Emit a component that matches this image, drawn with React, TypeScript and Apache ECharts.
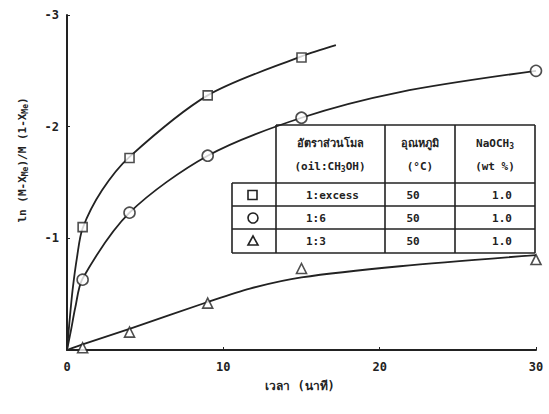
import React, { useEffect, useRef } from "react";
import * as echarts from "echarts";

// Data (time in minutes, value of ln(...))
const squarePoints: [number, number][] = [[1, -1.1], [4, -1.72], [9, -2.28], [15, -2.62]];
const circlePoints: [number, number][] = [[1, -0.63], [4, -1.23], [9, -1.74], [15, -2.08], [30, -2.5]];
const trianglePoints: [number, number][] = [[1, -0.02], [4, -0.16], [9, -0.42], [15, -0.73], [30, -0.81]];

// Fitted curves as drawn in the reference
const squareCurve: [number, number][] = [[0, 0], [0.15, -0.24], [0.36, -0.54], [0.64, -0.83], [1, -1.09], [2.24, -1.43], [4, -1.73], [9, -2.28], [15, -2.63], [17.2, -2.73]];
const circleCurve: [number, number][] = [[0, 0], [0.26, -0.18], [0.53, -0.38], [1, -0.64], [4, -1.23], [9, -1.74], [15, -2.08], [21.3, -2.31], [30, -2.5]];
const triangleCurve: [number, number][] = [[0, 0], [1, -0.05], [4, -0.19], [9, -0.43], [11.7, -0.55], [15, -0.65], [21.3, -0.75], [30, -0.85]];

const tableHeader = [
  ["อัตราส่วนโมล", "(oil:CH{s|3}OH)"],
  ["อุณหภูมิ", "(°C)"],
  ["NaOCH{s|3}", "(wt %)"],
];
const ratios = ["1:excess", "1:6", "1:3"];
const temps = ["50", "50", "50"];
const catalyst = ["1.0", "1.0", "1.0"];

const xTitle = "เวลา (นาที)";
const FONT = "'DejaVu Sans Mono', 'Liberation Mono', 'Noto Sans', sans-serif";
const INK = "#222";

export default function App() {
  const ref = useRef<HTMLDivElement>(null);
  useEffect(() => {
    if (!ref.current) return;
    const chart = echarts.init(ref.current, undefined, { renderer: "svg" });

    const txt = (text: string, x: number, y: number, align = "center", size = 11, rich?: any) => ({
      type: "text",
      x,
      y,
      style: {
        text,
        fill: INK,
        font: `bold ${size}px ${FONT}`,
        align,
        verticalAlign: "middle",
        rich,
      },
    });
    const ln = (x1: number, y1: number, x2: number, y2: number) => ({
      type: "line",
      shape: { x1, y1, x2, y2 },
      style: { stroke: INK, lineWidth: 1.6 },
    });
    const subRich = {
      s: { fontSize: 8, fontWeight: "bold", fontFamily: FONT, fill: INK, padding: [7, 0, 0, 0] },
    };

    const colL = 232, c2 = 276, c3 = 385, c4 = 455, colR = 535;
    const hTop = 125, r1 = 183, r2 = 206, r3 = 229, bot = 253;
    const rowY = [195, 218, 241];

    const graphics: any[] = [
      ln(c2, hTop, colR, hTop),
      ln(colL, r1, colR, r1),
      ln(colL, r2, colR, r2),
      ln(colL, r3, colR, r3),
      ln(colL, bot, colR, bot),
      ln(colL, r1, colL, bot),
      ln(c2, hTop, c2, bot),
      ln(c3, hTop, c3, bot),
      ln(c4, hTop, c4, bot),
      ln(colR, hTop, colR, bot),
      txt(tableHeader[0][0], 330, 143, "center", 11),
      txt(tableHeader[0][1], 330, 166, "center", 11, subRich),
      txt(tableHeader[1][0], 420, 143, "center", 11),
      txt(tableHeader[1][1], 420, 166, "center", 11),
      txt(tableHeader[2][0], 495, 143, "center", 11, subRich),
      txt(tableHeader[2][1], 495, 166, "center", 11),
      { type: "rect", shape: { x: 248, y: rowY[0] - 4.5, width: 9, height: 9 }, style: { fill: "#fff", stroke: INK, lineWidth: 1.6 } },
      { type: "circle", shape: { cx: 253, cy: rowY[1], r: 5 }, style: { fill: "#fff", stroke: INK, lineWidth: 1.6 } },
      { type: "polygon", shape: { points: [[253, rowY[2] - 5], [258, rowY[2] + 4], [248, rowY[2] + 4]] }, style: { fill: "#fff", stroke: INK, lineWidth: 1.6 } },
      {
        type: "text",
        x: 22,
        y: 160,
        rotation: Math.PI / 2,
        style: {
          text: "ln (M-X{s|Me})/M (1-X{s|Me})",
          fill: INK,
          font: `bold 11px ${FONT}`,
          align: "center",
          verticalAlign: "middle",
          rich: subRich,
        },
      },
      txt(xTitle, 300, 386, "center", 12),
    ];
    ratios.forEach((r, i) => graphics.push(txt(r, 306, rowY[i], "left", 11)));
    temps.forEach((t, i) => graphics.push(txt(t, 413, rowY[i], "center", 11)));
    catalyst.forEach((c, i) => graphics.push(txt(c, 502, rowY[i], "center", 11)));

    const lineSeries = (data: [number, number][]) => ({
      type: "line",
      data,
      smooth: 0.3,
      symbol: "none",
      lineStyle: { color: INK, width: 1.8 },
      z: 2,
    });
    const scatterSeries = (data: [number, number][], symbol: string, size: number) => ({
      type: "scatter",
      data,
      symbol,
      symbolSize: size,
      clip: false,
      itemStyle: { color: "#fff", borderColor: INK, borderWidth: 1.6 },
      z: 3,
    });

    chart.setOption({
      animation: false,
      backgroundColor: "#fff",
      grid: { left: 67, right: 13, top: 15, bottom: 64 },
      xAxis: {
        type: "value",
        min: 0,
        max: 30,
        interval: 10,
        axisLine: { lineStyle: { color: INK, width: 2 } },
        axisTick: { show: true, inside: true, length: 3, lineStyle: { color: INK } },
        splitLine: { show: false },
        axisLabel: { color: INK, fontWeight: "bold", fontSize: 12, fontFamily: FONT, margin: 11 },
      },
      yAxis: {
        type: "value",
        min: -3,
        max: 0,
        interval: 1,
        inverse: true,
        axisLine: { show: true, lineStyle: { color: INK, width: 2 } },
        axisTick: { show: true, inside: true, length: 3, lineStyle: { color: INK } },
        splitLine: { show: false },
        axisLabel: {
          color: INK,
          fontWeight: "bold",
          fontSize: 12,
          fontFamily: FONT,
          margin: 8,
          formatter: (v: number) => (v === 0 ? "" : String(v)),
        },
      },
      series: [
        lineSeries(squareCurve),
        lineSeries(circleCurve),
        lineSeries(triangleCurve),
        scatterSeries(squarePoints, "rect", 9),
        scatterSeries(circlePoints, "circle", 11),
        scatterSeries(trianglePoints, "triangle", 10),
      ],
      graphic: graphics,
    });
    return () => chart.dispose();
  }, []);
  return <div ref={ref} style={{ position: "fixed", left: 0, top: 0, width: 549, height: 414 }} />;
}
